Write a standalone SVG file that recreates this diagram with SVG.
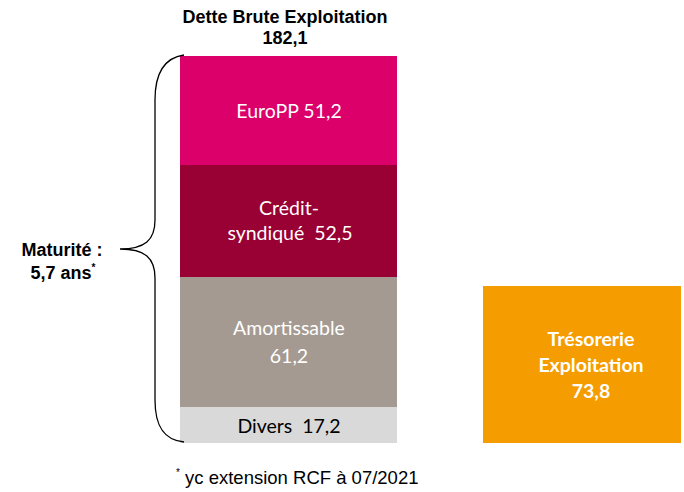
<svg xmlns="http://www.w3.org/2000/svg" width="684" height="492" viewBox="0 0 684 492">
<style>
.h{font-family:"Liberation Sans",Arial,sans-serif;font-weight:bold;font-size:18px;fill:#000;text-anchor:middle}
.l{font-family:Lato,"Open Sans",sans-serif;font-size:19.5px;text-anchor:middle}
.w{fill:#fff}
.b{font-weight:bold}
.f{font-family:"Liberation Sans",Arial,sans-serif;font-size:18.5px;fill:#000}
</style>
<rect width="684" height="492" fill="#fff"/>
<g id="title">
<text class="h" x="285" y="23">Dette Brute Exploitation</text>
<text class="h" x="285" y="44">182,1</text>
</g>
<g id="europp">
<rect x="180" y="56" width="217" height="109" fill="#DC006B"/>
<text class="l w" x="289" y="118">EuroPP 51,2</text>
</g>
<g id="credit">
<rect x="180" y="165" width="217" height="112" fill="#990033"/>
<text class="l w" x="289" y="215">Crédit-</text>
<text class="l w" x="290" y="240" xml:space="preserve">syndiqué  52,5</text>
</g>
<g id="amort">
<rect x="180" y="277" width="217" height="130" fill="#A59A91"/>
<text class="l w" x="289" y="335">Amortissable</text>
<text class="l w" x="289" y="363">61,2</text>
</g>
<g id="divers">
<rect x="180" y="407" width="217" height="36" fill="#D9D9D9"/>
<text class="l" x="289" y="433" fill="#000" xml:space="preserve">Divers  17,2</text>
</g>
<g id="tresorerie">
<rect x="483" y="286" width="198" height="157" fill="#F59C00"/>
<text class="l w b" x="591" y="346">Trésorerie</text>
<text class="l w b" x="591" y="372">Exploitation</text>
<text class="l w b" x="591" y="398">73,8</text>
</g>
<g id="connectors">
<path d="M184,55 C163,58 155,75 155,100 L155,220 C155,240 145,249 120,249 C145,249 155,258 155,278 L155,400 C155,425 163,440 184,442" fill="none" stroke="#000" stroke-width="1.3"/>
</g>
<g id="maturite">
<text class="h" x="62" y="256">Maturité :</text>
<text class="h" x="63" y="279">5,7 ans<tspan font-size="10" dy="-8">*</tspan></text>
</g>
<g id="footnote">
<text class="f" x="176" y="484"><tspan font-size="10" dy="-8">*</tspan><tspan dy="8"> yc extension RCF à 07/2021</tspan></text>
</g>
</svg>
